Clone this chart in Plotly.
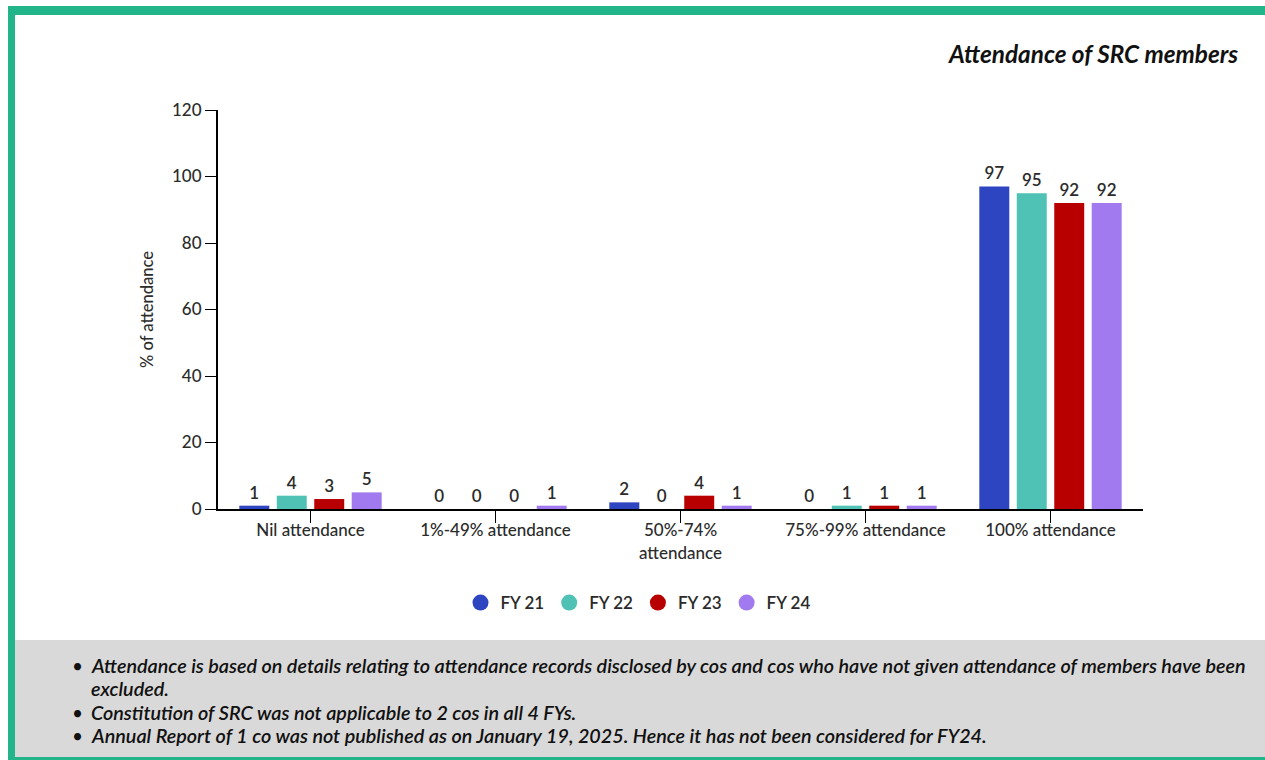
import plotly.graph_objects as go

# Attendance buckets and series
categories = ["Nil attendance", "1%-49% attendance", "50%-74%<br>attendance",
              "75%-99% attendance", "100% attendance"]
series_names = ["FY 21", "FY 22", "FY 23", "FY 24"]
fy21 = [1, 0, 2, 0, 97]
fy22 = [4, 0, 0, 1, 95]
fy23 = [3, 0, 4, 1, 92]
fy24 = [5, 1, 1, 1, 92]
series_values = [fy21, fy22, fy23, fy24]
series_colors = ["#2d45c1", "#4fc1b5", "#b90000", "#a07aee"]

y_ticks = [0, 20, 40, 60, 80, 100, 120]

title_text = "Attendance of SRC members"
notes = [
    "Attendance is based on details relating to attendance records disclosed by cos and cos who have not given attendance of members have been",
    "excluded.",
    "Constitution of SRC was not applicable to 2 cos in all 4 FYs.",
    "Annual Report of 1 co was not published as on January 19, 2025. Hence it has not been considered for FY24.",
]
bullet_rows = [True, False, True, True]

W, H = 1265, 760
L, R, T, B = 218, 1143, 110, 509  # plot area in pixels

def px(x):
    return (x - L) / (R - L)

def py(y):
    return (B - y) / (B - T)

FONT = "Lato"
TXT = "#2b2b2b"

fig = go.Figure()

for name, vals, col in zip(series_names, series_values, series_colors):
    fig.add_trace(go.Bar(
        x=categories, y=vals, name=name, marker_color=col,
        marker_line_width=0,
        text=[str(v) for v in vals], textposition="outside",
        textfont=dict(family=FONT, size=17, color=TXT, weight=600),
        cliponaxis=False, showlegend=False,
    ))
    # circular legend swatch
    fig.add_trace(go.Scatter(
        x=[None], y=[None], mode="markers", name=name,
        marker=dict(symbol="circle", size=16, color=col),
    ))

shapes = [
    # grey notes panel
    dict(type="rect", xref="paper", yref="paper", x0=px(15), x1=px(1265),
         y0=py(640), y1=py(757), fillcolor="#d9d9d9", line_width=0, layer="below"),
    # green frame: top, left, bottom
    dict(type="rect", xref="paper", yref="paper", x0=px(8), x1=px(1265),
         y0=py(6), y1=py(15), fillcolor="#22b58a", line_width=0),
    dict(type="rect", xref="paper", yref="paper", x0=px(8), x1=px(15),
         y0=py(6), y1=py(760), fillcolor="#22b58a", line_width=0),
    dict(type="rect", xref="paper", yref="paper", x0=px(15), x1=px(1265),
         y0=py(757), y1=py(760), fillcolor="#22b58a", line_width=0),
]

annotations = [
    dict(text=f"<b><i>{title_text}</i></b>", xref="paper", yref="paper",
         x=px(1240), y=py(53), xanchor="right", yanchor="middle",
         showarrow=False, font=dict(family=FONT, size=24.3, color="#111111")),
]
note_y = [665, 688, 712, 735]
for txt, yy, bul in zip(notes, note_y, bullet_rows):
    if bul:
        annotations.append(dict(text="•", xref="paper", yref="paper",
                                x=px(70), y=py(yy), xanchor="left", yanchor="middle",
                                showarrow=False, font=dict(family=FONT, size=19, color="#111111")))
    annotations.append(dict(text=f"<i>{txt}</i>", xref="paper", yref="paper",
                            x=px(89), y=py(yy), xanchor="left", yanchor="middle",
                            showarrow=False,
                            font=dict(family=FONT, size=19.75, color="#111111", weight=600)))

fig.update_layout(
    width=W, height=H,
    margin=dict(l=L, r=W - R, t=T, b=H - B),
    paper_bgcolor="white", plot_bgcolor="white",
    barmode="group", bargap=0.19, bargroupgap=0.2,
    font=dict(family=FONT, size=17, color=TXT),
    shapes=shapes, annotations=annotations,
    legend=dict(orientation="h", x=px(638), y=py(603), xanchor="center",
                yanchor="middle", font=dict(family=FONT, size=17, color=TXT, weight=600),
                itemclick=False, bgcolor="rgba(0,0,0,0)"),
    xaxis=dict(showline=True, linecolor="black", linewidth=2,
               ticks="outside", ticklen=12, tickwidth=1, tickcolor="black",
               ticklabelstandoff=-7,
               tickfont=dict(family=FONT, size=17, color=TXT, weight=500),
               showgrid=False, zeroline=False),
    yaxis=dict(range=[0, 120], tickvals=y_ticks, showline=True, linecolor="black",
               linewidth=2, ticks="outside", ticklen=11, tickwidth=1, tickcolor="black",
               tickfont=dict(family=FONT, size=17, color=TXT, weight=500),
               title=dict(text="% of attendance", standoff=14,
                          font=dict(family=FONT, size=16.5, color=TXT, weight=500)),
               showgrid=False, zeroline=False),
)

fig.write_html("out.html")
